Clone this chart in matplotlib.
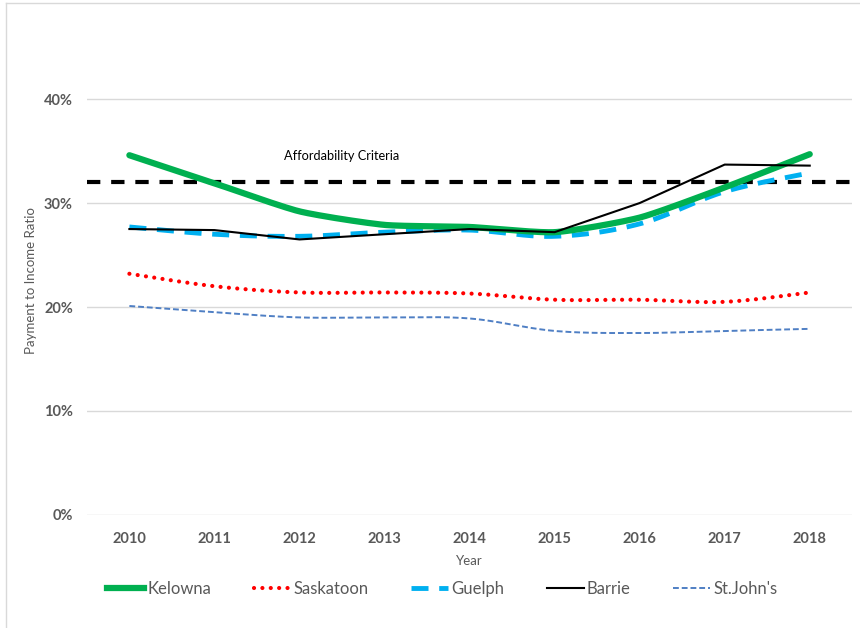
import numpy as np
import matplotlib
matplotlib.use("Agg")
import matplotlib.pyplot as plt
from matplotlib.lines import Line2D

years = ["2010", "2011", "2012", "2013", "2014", "2015", "2016", "2017", "2018"]
kelowna = [0.346, 0.319, 0.292, 0.279, 0.277, 0.272, 0.286, 0.315, 0.347]
saskatoon = [0.232, 0.220, 0.214, 0.214, 0.213, 0.207, 0.207, 0.205, 0.214]
guelph = [0.277, 0.270, 0.268, 0.272, 0.274, 0.268, 0.280, 0.311, 0.329]
barrie = [0.275, 0.274, 0.265, 0.270, 0.275, 0.272, 0.300, 0.337, 0.336]
stjohns = [0.201, 0.195, 0.190, 0.190, 0.189, 0.177, 0.175, 0.177, 0.179]
criteria = 0.32
yticks = [0.0, 0.1, 0.2, 0.3, 0.4]

GRAY = "#595959"
FONT = "Lato"


def smooth(x, y, n=30, k=6.0):
    """Bezier-smoothed polyline through the data points (spreadsheet-style)."""
    x = np.asarray(x, float)
    y = np.asarray(y, float)
    px, py = [], []
    m = len(x)
    for i in range(m - 1):
        p0 = (x[max(i - 1, 0)], y[max(i - 1, 0)])
        p1 = (x[i], y[i])
        p2 = (x[i + 1], y[i + 1])
        p3 = (x[min(i + 2, m - 1)], y[min(i + 2, m - 1)])
        c1 = (p1[0] + (p2[0] - p0[0]) / k, p1[1] + (p2[1] - p0[1]) / k)
        c2 = (p2[0] - (p3[0] - p1[0]) / k, p2[1] - (p3[1] - p1[1]) / k)
        t = np.linspace(0, 1, n, endpoint=(i == m - 2))
        bx = ((1 - t) ** 3 * p1[0] + 3 * (1 - t) ** 2 * t * c1[0]
              + 3 * (1 - t) * t ** 2 * c2[0] + t ** 3 * p2[0])
        by = ((1 - t) ** 3 * p1[1] + 3 * (1 - t) ** 2 * t * c1[1]
              + 3 * (1 - t) * t ** 2 * c2[1] + t ** 3 * p2[1])
        px.extend(bx)
        py.extend(by)
    return np.array(px), np.array(py)


fig = plt.figure(figsize=(8.6, 6.28), dpi=100)
ax = fig.add_axes([0.101, 0.180, 0.890, 0.745])

x = np.arange(len(years))

ax.axhline(criteria, color="black", lw=3, ls=(0, (3.2, 2.6)), zorder=2)

sx, sy = smooth(x, stjohns)
ax.plot(sx, sy, color="#4F7FC4", lw=1.4, ls=(0, (3, 1.5)), zorder=3)
sx, sy = smooth(x, saskatoon)
ax.plot(sx, sy, color="#FF0000", lw=3, ls=(0, (0.01, 2.0)),
        dash_capstyle="round", zorder=3)
sx, sy = smooth(x, guelph)
ax.plot(sx, sy, color="#00B0F0", lw=3.5, ls=(0, (3.5, 2.2)), zorder=3)
ax.plot(x, barrie, color="black", lw=1.5, zorder=4)
sx, sy = smooth(x, kelowna, k=10.0)
ax.plot(sx, sy, color="#00B050", lw=4.5, solid_capstyle="round", zorder=3)

ax.text(2.5, 0.345, "Affordability Criteria", ha="center", va="center",
        fontsize=9.2, color="black", family=FONT)

ax.set_xlim(-0.5, len(years) - 0.5)
ax.set_ylim(0, 0.45)
ax.set_xticks(x)
ax.set_xticklabels(years)
ax.set_yticks(yticks)
ax.set_yticklabels([f"{int(round(v * 100))}%" for v in yticks])
ax.grid(axis="y", color="#D9D9D9", lw=1)
ax.set_axisbelow(True)
for s in ax.spines.values():
    s.set_visible(False)
ax.tick_params(length=0, pad=12, colors=GRAY)
for lab in ax.get_xticklabels() + ax.get_yticklabels():
    lab.set_fontweight("bold")
    lab.set_fontsize(10.5)
    lab.set_family(FONT)
ax.tick_params(axis="y", pad=10)

ax.set_xlabel("Year", fontsize=9.5, color=GRAY, family=FONT, labelpad=7)
ax.set_ylabel("Payment to Income Ratio", fontsize=9.5, color=GRAY,
              family=FONT, labelpad=5)

handles = [
    Line2D([], [], color="#00B050", lw=4.5),
    Line2D([], [], color="#FF0000", lw=3, ls=(0, (0.01, 2.0)), dash_capstyle="round"),
    Line2D([], [], color="#00B0F0", lw=3.5, ls=(0, (3.5, 2.2))),
    Line2D([], [], color="black", lw=1.5),
    Line2D([], [], color="#4F7FC4", lw=1.4, ls=(0, (3, 1.5))),
]
labels = ["Kelowna", "Saskatoon", "Guelph", "Barrie", "St.John's"]
leg = fig.legend(handles, labels, loc="center", bbox_to_anchor=(0.5145, 0.062),
                 ncol=5, frameon=False, handlelength=2.2, handletextpad=0.2,
                 columnspacing=2.55, prop={"family": FONT, "size": 12})
for t in leg.get_texts():
    t.set_color(GRAY)

# outer chart frame (left and top edges)
fig.add_artist(Line2D([6 / 860, 6 / 860], [0, 1 - 3 / 628],
                      transform=fig.transFigure, color="#D9D9D9", lw=1))
fig.add_artist(Line2D([6 / 860, 1], [1 - 3 / 628, 1 - 3 / 628],
                      transform=fig.transFigure, color="#D9D9D9", lw=1))

fig.savefig("out.png", dpi=100, facecolor="white")
